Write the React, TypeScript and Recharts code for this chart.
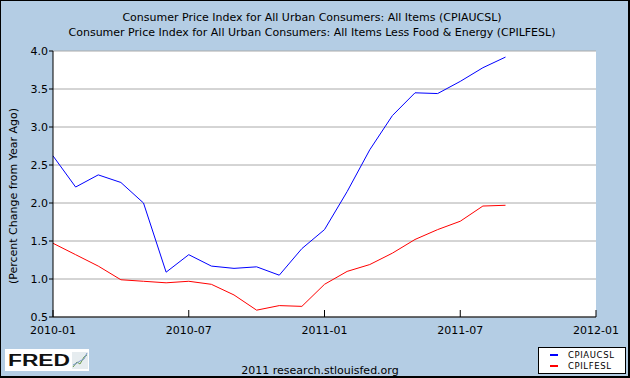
import { LineChart, Line, XAxis, YAxis, CartesianGrid, Legend } from 'recharts';

const months = [
  '2010-01', '2010-02', '2010-03', '2010-04', '2010-05', '2010-06', '2010-07',
  '2010-08', '2010-09', '2010-10', '2010-11', '2010-12', '2011-01', '2011-02',
  '2011-03', '2011-04', '2011-05', '2011-06', '2011-07', '2011-08', '2011-09',
];
const cpiAll = [
  2.62, 2.21, 2.37, 2.27, 2.0, 1.09, 1.32, 1.17, 1.14, 1.16, 1.05,
  1.4, 1.65, 2.15, 2.7, 3.15, 3.45, 3.44, 3.6, 3.78, 3.92,
];
const cpiCore = [
  1.47, 1.32, 1.17, 0.99, 0.97, 0.95, 0.97, 0.93, 0.79, 0.59, 0.65,
  0.64, 0.93, 1.1, 1.19, 1.34, 1.52, 1.65, 1.76, 1.96, 1.97,
];
const xTicks = [0, 6, 12, 18, 24];
const xTickLabels = ['2010-01', '2010-07', '2011-01', '2011-07', '2012-01'];
const yTicks = [0.5, 1.0, 1.5, 2.0, 2.5, 3.0, 3.5, 4.0];

const data = months.map((m, i) => ({
  t: i,
  month: m,
  CPIAUCSL: cpiAll[i],
  CPILFESL: cpiCore[i],
}));

const FONT = '"DejaVu Sans", Verdana, sans-serif';
const BG = '#b4cde4';

const YLabel = (props: any) => {
  const vb = props.viewBox || {};
  const cy = (vb.y || 0) + (vb.height || 0) / 2 + 12;
  return (
    <text
      x={13}
      y={cy}
      transform={`rotate(-90, 13, ${cy})`}
      textAnchor="middle"
      dominantBaseline="central"
      fontSize={11}
      fontFamily={FONT}
      fill="#000"
    >
      (Percent Change from Year Ago)
    </text>
  );
};

const LegendBox = (props: any) => {
  const items = props.payload || [];
  return (
    <div
      style={{
        width: 88,
        height: 27,
        boxSizing: 'border-box',
        border: '1px solid #000',
        background: '#fff',
        fontFamily: FONT,
        fontSize: 8.5,
        paddingTop: 1,
      }}
    >
      {items.map((it: any) => (
        <div key={it.value} style={{ display: 'flex', alignItems: 'center', height: 11 }}>
          <span style={{ display: 'inline-block', width: 8, height: 2, background: it.color, marginLeft: 11, marginRight: 10 }} />
          <span style={{ letterSpacing: 0.6 }}>{it.value}</span>
        </div>
      ))}
    </div>
  );
};

export default function App() {
  return (
    <div
      style={{
        position: 'absolute',
        left: 0,
        top: 0,
        width: 630,
        height: 378,
        background: BG,
        boxSizing: 'border-box',
        borderStyle: 'solid',
        borderColor: '#000',
        borderWidth: '1px 2px 2px 1px',
      }}
    >
      <div style={{ position: 'absolute', left: -1, top: -1 }}>
        <LineChart width={630} height={378} data={data} margin={{ top: 51, right: 34, bottom: 0, left: 0 }}>
          <text x={312} y={17} textAnchor="middle" dominantBaseline="central" fontSize={11} fontFamily={FONT} fill="#000">
            Consumer Price Index for All Urban Consumers: All Items (CPIAUCSL)
          </text>
          <text x={312} y={32} textAnchor="middle" dominantBaseline="central" fontSize={11} fontFamily={FONT} fill="#000">
            Consumer Price Index for All Urban Consumers: All Items Less Food &amp; Energy (CPILFESL)
          </text>
          <text x={320} y={370} textAnchor="middle" dominantBaseline="central" fontSize={11} fontFamily={FONT} fill="#000">
            2011 research.stlouisfed.org
          </text>
          <g>
            <rect x={5} y={349} width={84} height={22} fill="#fff" />
            <text x={8} y={366} fontSize={16} fontWeight="bold" fontFamily='"Liberation Sans", Arial, sans-serif' textLength={62} lengthAdjust="spacingAndGlyphs" fill="#111">
              FRED
            </text>
            <rect x={72} y={352} width={16} height={17} fill="#e6ecef" />
            <polyline points="73,367 77,362 80,364 84,357 87,355" fill="none" stroke="#6b9c4a" strokeWidth={1} />
            <polyline points="73,365 77,363 80,361 84,359 87,353" fill="none" stroke="#7a98c8" strokeWidth={1} />
          </g>
          <CartesianGrid vertical={false} stroke="#aaaaaa" fill="#ffffff" />
          <XAxis
            dataKey="t"
            type="number"
            domain={[0, 24]}
            ticks={xTicks}
            tickFormatter={(v: number) => xTickLabels[xTicks.indexOf(v)]}
            height={61}
            interval={0}
            stroke="#000"
            tickSize={-7}
            tickMargin={16}
            tick={{ fill: '#000', fontSize: 11, fontFamily: FONT }}
          />
          <YAxis
            type="number"
            domain={[0.5, 4]}
            ticks={yTicks}
            tickFormatter={(v: number) => v.toFixed(1)}
            width={53}
            interval={0}
            stroke="#000"
            tickSize={4}
            tickMargin={1}
            tick={{ fill: '#000', fontSize: 11, fontFamily: FONT }}
            label={<YLabel />}
          />
          <Legend
            layout="vertical"
            align="center"
            verticalAlign="middle"
            content={<LegendBox />}
            wrapperStyle={{ left: 538, top: 347, width: 88, height: 27 }}
          />
          <Line dataKey="CPIAUCSL" stroke="#0000ff" strokeWidth={1} dot={false} isAnimationActive={false} />
          <Line dataKey="CPILFESL" stroke="#ff0000" strokeWidth={1} dot={false} isAnimationActive={false} />
        </LineChart>
      </div>
    </div>
  );
}
